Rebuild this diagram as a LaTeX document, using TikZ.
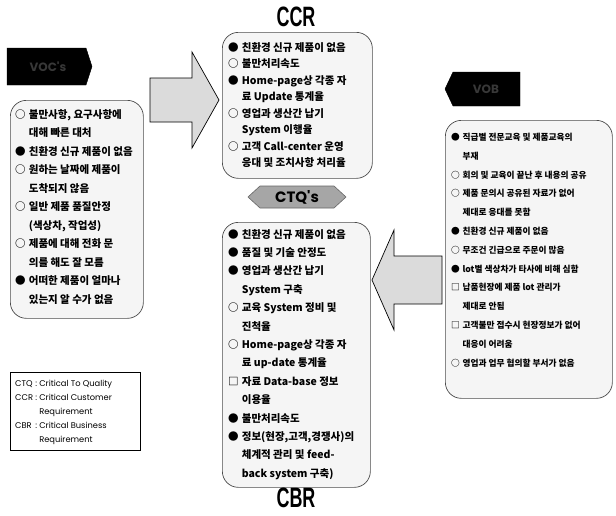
\documentclass[tikz,border=0pt]{standalone}
\usepackage{fontspec}
\setmainfont{Noto Sans CJK KR}
\newfontfamily\geo{Poppins}
\newfontfamily\ttl{Liberation Sans}
\newcommand\bul[1]{\makebox[1.3em][l]{#1}}
\newcommand\ind{\hspace*{1.3em}}
\begin{document}
\begin{tikzpicture}[x=1pt,y=-1pt,
  box/.style={draw=black!70, line width=0.7pt, rounded corners=16pt, fill=black!4, inner sep=0pt},
  txt/.style={anchor=north west, inner sep=0pt, align=left},
  tagshape/.style={fill=black, draw=black},
  tagtxt/.style={text=black!78, font=\geo\bfseries\fontsize{12}{12}\selectfont},
  blockarrow/.style={draw=black, line width=0.7pt, fill=black!14},
  ctqshape/.style={draw=black!60, line width=0.6pt, fill=black!35},
  titletxt/.style={font=\ttl\bfseries\fontsize{28}{28}\selectfont, inner sep=0pt}
]
\useasboundingbox (0,0) rectangle (616,515);
\fill[white] (0,0) rectangle (616,515);

% ---- left tag and box
\draw[tagshape] (7,48) -- (86,48) -- (92,66.5) -- (86,85) -- (7,85) -- cycle;
\node[tagtxt] (voc) at (48,66.5) {VOC's};

\node[box, anchor=north west, minimum width=133, minimum height=218] (lbox) at (10,100) {};
\node[txt, font=\fontsize{10.5}{18.5}\selectfont\bfseries] (ltxt) at (15,109) {%
\bul{○}불만사항, 요구사항에\\
\ind 대해 빠른 대처\\
\bul{●}친환경 신규 제품이 없음\\
\bul{○}원하는 날짜에 제품이\\
\ind 도착되지 않음\\
\bul{○}일반 제품 품질안정\\
\ind (색상차, 작업성)\\
\bul{○}제품에 대해 전화 문\\
\ind 의를 해도 잘 모름\\
\bul{●}어떠한 제품이 얼마나\\
\ind 있는지 알 수가 없음};

% ---- legend
\node[draw, line width=0.8pt, anchor=north west, minimum width=130, minimum height=78, inner sep=0pt] (leg) at (10,372) {};
\node[anchor=north west, inner sep=0pt, font=\geo\fontsize{8.3}{14}\selectfont] (legt) at (15,376) {%
\begin{tabular}{@{}l@{\ }l@{\ }l@{}}
CTQ&:&Critical To Quality\\
CCR&:&Critical Customer\\
&&Requirement\\
CBR&:&Critical Business\\
&&Requirement
\end{tabular}};

% ---- block arrows
\draw[blockarrow] (150,78) -- (192,78) -- (192,52) -- (219,100) -- (192,148) -- (192,122) -- (150,122) -- cycle;
\draw[blockarrow] (442,256) -- (394,256) -- (394,230) -- (372,280) -- (394,330) -- (394,304) -- (442,304) -- cycle;

% ---- CCR
\node[titletxt] (ccrt) at (296,17) {\scalebox{0.64}[1]{CCR}};
\node[box, anchor=north west, minimum width=150, minimum height=146] (ccr) at (222,32) {};
\node[txt, font=\fontsize{10.5}{16.5}\selectfont\bfseries] (ccrtxt) at (228,42) {%
\bul{●}친환경 신규 제품이 없음\\
\bul{○}불만처리속도\\
\bul{●}Home-page상 각종 자\\
\ind 료 Update 통계율\\
\bul{○}영업과 생산간 납기\\
\ind System 이행율\\
\bul{○}고객 Call-center 운영\\
\ind 응대 및 조치사항 처리율};

% ---- CTQ's
\draw[ctqshape] (248,197) -- (260,186) -- (334,186) -- (346,197) -- (334,208) -- (260,208) -- cycle;
\node[font=\geo\bfseries\fontsize{15}{15}\selectfont] (ctq) at (297,197) {CTQ's};

% ---- CBR
\node[box, anchor=north west, minimum width=148, minimum height=265] (cbr) at (222,222) {};
\node[txt, font=\fontsize{10.5}{18.4}\selectfont\bfseries] (cbrtxt) at (228,229) {%
\bul{●}친환경 신규 제품이 없음\\
\bul{●}품질 및 기술 안정도\\
\bul{●}영업과 생산간 납기\\
\ind System 구축\\
\bul{○}교육 System 정비 및\\
\ind 진척율\\
\bul{○}Home-page상 각종 자\\
\ind 료 up-date 통계율\\
\bul{□}자료 Data-base 정보\\
\ind 이용율\\
\bul{●}불만처리속도\\
\bul{●}정보(현장,고객,경쟁사)의\\
\ind 체계적 관리 및 feed-\\
\ind back system 구축)};
\node[titletxt] (cbrt) at (296,498) {\scalebox{0.64}[1]{CBR}};

% ---- right tag and box
\draw[tagshape] (445,89) -- (453,72) -- (520,72) -- (520,106) -- (453,106) -- cycle;
\node[tagtxt] (vob) at (486,89) {VOB};

\node[box, anchor=north west, minimum width=167, minimum height=278] (rbox) at (445,120) {};
\node[txt, font=\fontsize{8.7}{18.8}\selectfont\bfseries] (rtxt) at (451,133) {%
\bul{●}직급별 전문교육 및 제품교육의\\
\ind 부재\\
\bul{○}회의 및 교육이 끝난 후 내용의 공유\\
\bul{○}제품 문의시 공유된 자료가 없어\\
\ind 제대로 응대를 못함\\
\bul{●}친환경 신규 제품이 없음\\
\bul{○}무조건 긴급으로 주문이 많음\\
\bul{●}lot별 색상차가 타사에 비해 심함\\
\bul{□}납품현장에 제품 lot 관리가\\
\ind 제대로 안됨\\
\bul{□}고객불만 접수시 현장정보가 없어\\
\ind 대응이 어려움\\
\bul{○}영업과 업무 협의할 부서가 없음};
\end{tikzpicture}
\end{document}
